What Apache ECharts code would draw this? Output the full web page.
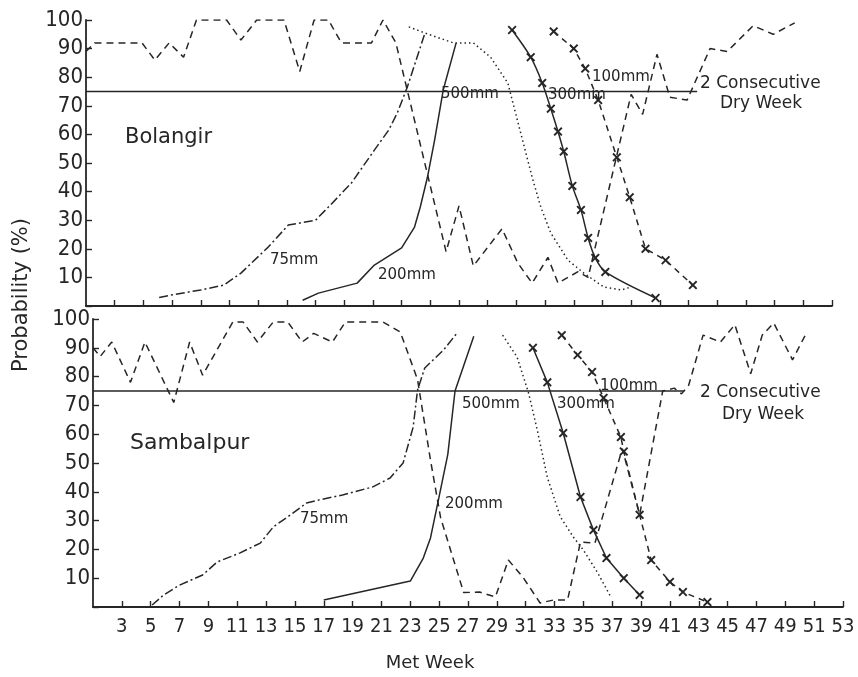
<!DOCTYPE html>
<html>
<head>
<meta charset="utf-8">
<script src="https://cdn.jsdelivr.net/npm/echarts@6/dist/echarts.min.js"></script>
<style>
  html, body { margin: 0; padding: 0; background: #fff; }
  #chart { width: 858px; height: 677px; }
</style>
</head>
<body>
<div id="chart"></div>
<script>
// tick labels
const weekTicks = [3, 5, 7, 9, 11, 13, 15, 17, 19, 21, 23, 25, 27, 29, 31, 33, 35, 37, 39, 41, 43, 45, 47, 49, 51, 53];

// Bolangir (top) - [met week, probability %]
const bolDry = [[1, 89], [1.6, 92], [4.9, 92], [5.8, 86], [6.8, 92], [7.8, 87], [8.7, 100], [10.8, 100], [11.8, 93], [12.9, 100],
  [14.8, 100], [15.9, 82], [16.9, 100], [17.9, 100], [18.8, 92], [20.9, 92], [21.7, 100], [22.6, 92], [26.1, 19], [27, 35],
  [28, 14], [30, 27], [31.1, 15], [32.1, 8], [33.2, 17], [33.9, 8], [35.3, 12], [36, 10], [39, 74], [39.8, 67],
  [40.8, 88], [41.7, 73], [42.9, 72], [44.5, 90], [45.7, 89], [47.5, 98], [48.9, 95], [50.4, 99]];
const bol75 = [[6.1, 3], [7.1, 4], [9, 5.6], [10.6, 7.3], [11.8, 11.5], [13.7, 20.6], [15.1, 28.3], [17, 30], [17.9, 34.6],
  [19.5, 43], [21.1, 54.5], [22.1, 61.5], [22.7, 67.5], [23.4, 76.6], [24.6, 95]];
const bol200 = [[16.1, 2], [17.2, 4.5], [19.9, 8], [21.1, 14.3], [23, 20.3], [23.9, 27.6], [24.3, 34.6], [24.8, 45],
  [25.3, 58], [25.9, 75.5], [26.8, 92]];
const bol500 = [[23.5, 97.6], [24.6, 95.5], [26.6, 92], [28, 92], [29.2, 87], [30.4, 78], [31.3, 60.5], [32.1, 45],
  [32.7, 34.6], [33.4, 25.5], [34.6, 16], [35.7, 11.5], [37.1, 6.6], [38.3, 5.6], [38.9, 6.5]];
const bol300 = [[30.7, 96.5], [32, 87], [32.8, 78], [33.4, 69], [33.9, 61], [34.3, 54], [34.9, 42], [35.5, 33.6],
  [36, 23.8], [36.5, 16.8], [37.2, 11.9], [40.7, 2.8]];
const bol100 = [[33.6, 96], [35, 90], [35.8, 83], [36.7, 72], [38, 52], [38.9, 38], [40, 20], [41.4, 16], [43.3, 7.3]];
const bolLevel = [[1, 75], [43.6, 75]];

// Sambalpur (bottom)
const samDry = [[1, 90], [1.5, 87], [2.3, 92], [3.6, 78], [4.6, 92], [6.6, 71], [7.7, 92], [8.6, 80.5], [10.7, 99], [11.4, 99],
  [12.4, 92], [13.5, 99], [14.5, 99], [15.5, 92], [16.3, 95], [17.6, 92], [18.5, 99], [21.1, 99], [22.3, 95.5], [23.5, 79],
  [24.4, 51], [25.1, 31], [26.7, 5], [27.8, 5.2], [28.9, 3.5], [29.8, 16.3], [30.8, 10.4], [32, 1.4], [32.9, 2.4], [33.9, 2.4],
  [34.8, 22.6], [35.8, 22.2], [37.7, 55], [38.9, 32], [40.5, 75], [41.3, 76], [41.8, 74], [42.3, 77], [43.3, 94.4],
  [44.5, 92], [45.5, 98], [46.6, 81], [47.4, 94.4], [48.2, 98.6], [49.5, 85.8], [50.5, 95.5]];
const sam75 = [[5.1, 0.7], [5.9, 4.2], [7, 7.6], [8.6, 11.1], [9.6, 15.6], [11.2, 18.8], [12.6, 22.2], [13.5, 27.8], [14.7, 32],
  [15.8, 36.1], [16.7, 37.2], [18.3, 38.9], [20.4, 41.7], [21.6, 44.8], [22.5, 50], [23.2, 62.5], [23.5, 75.3], [24, 83],
  [25.3, 89.2], [26.3, 95.5]];
const sam200 = [[17, 2.4], [23, 9], [23.9, 17], [24.4, 24], [24.9, 36], [25.6, 53], [26.1, 75], [27.4, 94]];
const sam500 = [[29.4, 94.4], [30.4, 86.8], [31.2, 74.3], [31.8, 61.5], [32.5, 45], [33.4, 31.3], [34.3, 24.3], [35, 19.8],
  [36, 11.8], [36.9, 3.5]];
const sam300 = [[31.5, 90], [32.5, 78], [33.6, 60.4], [34.8, 38.2], [35.7, 26.7], [36.6, 17], [37.8, 10], [38.9, 4.2]];
const sam100 = [[33.5, 94.4], [34.6, 87.5], [35.6, 81.6], [36.4, 72.6], [37.6, 59], [37.8, 54], [38.9, 32], [39.7, 16.3],
  [41, 8.7], [41.9, 5.2], [43.6, 1.7]];
const samLevel = [[1, 75], [42, 75]];

const INK = '#262626';
const NUM_FONT = "'DejaVu Sans Condensed', 'Liberation Sans Narrow', 'DejaVu Sans', sans-serif";
const TXT_FONT = "'DejaVu Sans', sans-serif";
// thick "x" marker
const CROSS = 'path://M1.5,0L5,3.5L8.5,0L10,1.5L6.5,5L10,8.5L8.5,10L5,6.5L1.5,10L0,8.5L3.5,5L0,1.5Z';

const DRY = [7, 5];
const DASHDOT = [9, 3, 2, 3];
const DOT = [1.5, 3];
const SHORTDASH = [6, 5];

function line(grid, data, dash, marked, smooth) {
  return {
    type: 'line',
    xAxisIndex: grid,
    yAxisIndex: grid,
    data: data,
    symbol: marked ? CROSS : 'none',
    symbolSize: 9,
    showSymbol: !!marked,
    smooth: smooth || false,
    lineStyle: { color: INK, width: 1.5, type: dash },
    itemStyle: { color: INK },
    silent: true
  };
}

function xAxis(grid, labels) {
  return {
    type: 'value', gridIndex: grid, min: 1, max: 53,
    axisLine: { lineStyle: { color: INK, width: 1.8 } },
    axisTick: { inside: true, length: 6, customValues: weekTicks, lineStyle: { color: INK, width: 1.4 } },
    axisLabel: {
      show: labels, customValues: weekTicks, color: INK, fontFamily: NUM_FONT, fontSize: 20, margin: 10
    },
    splitLine: { show: false }
  };
}

function yAxis(grid) {
  return {
    type: 'value', gridIndex: grid, min: 0, max: 100, interval: 10,
    axisLine: { show: true, lineStyle: { color: INK, width: 1.8 } },
    axisTick: { show: true, inside: true, length: 6, lineStyle: { color: INK, width: 1.4 } },
    axisLabel: {
      color: INK, fontFamily: NUM_FONT, fontSize: 22, margin: 3,
      formatter: v => (v === 0 ? '' : String(v))
    },
    splitLine: { show: false }
  };
}

function label(text, x, y, size) {
  return {
    type: 'text', x: x, y: y,
    style: { text: text, fill: INK, font: (size || 15) + 'px ' + TXT_FONT, verticalAlign: 'middle' }
  };
}

const chart = echarts.init(document.getElementById('chart'));
chart.setOption({
  backgroundColor: '#ffffff',
  animation: false,
  grid: [
    { left: 86, top: 20, width: 746, height: 286 },
    { left: 93, top: 319, width: 750, height: 288 }
  ],
  xAxis: [xAxis(0, false), xAxis(1, true)],
  yAxis: [yAxis(0), yAxis(1)],
  series: [
    line(0, bolLevel, 'solid'),
    line(0, bolDry, DRY),
    line(0, bol75, DASHDOT),
    line(0, bol200, 'solid'),
    line(0, bol500, DOT),
    line(0, bol300, 'solid', true, 0.3),
    line(0, bol100, SHORTDASH, true),
    line(1, samLevel, 'solid'),
    line(1, samDry, DRY),
    line(1, sam75, DASHDOT),
    line(1, sam200, 'solid'),
    line(1, sam500, DOT),
    line(1, sam300, 'solid', true),
    line(1, sam100, SHORTDASH, true)
  ],
  graphic: [
    label('Bolangir', 125, 138, 21),
    label('75mm', 270, 260),
    label('200mm', 378, 275),
    label('500mm', 441, 94),
    label('300mm', 548, 95),
    label('100mm', 592, 77),
    label('2 Consecutive', 700, 84, 17),
    label('Dry Week', 720, 104, 17),
    label('Sambalpur', 130, 443, 22),
    label('75mm', 300, 519),
    label('200mm', 445, 504),
    label('500mm', 462, 404),
    label('300mm', 557, 404),
    label('100mm', 600, 386),
    label('2 Consecutive', 700, 393, 17),
    label('Dry Week', 722, 415, 17),
    {
      type: 'text', x: 22, y: 295, rotation: Math.PI / 2,
      style: { text: 'Probability (%)', fill: INK, font: '21px ' + TXT_FONT, align: 'center', verticalAlign: 'middle' }
    },
    {
      type: 'text', x: 430, y: 663,
      style: { text: 'Met Week', fill: INK, font: '18px ' + TXT_FONT, align: 'center', verticalAlign: 'middle' }
    }
  ]
});
</script>
</body>
</html>
